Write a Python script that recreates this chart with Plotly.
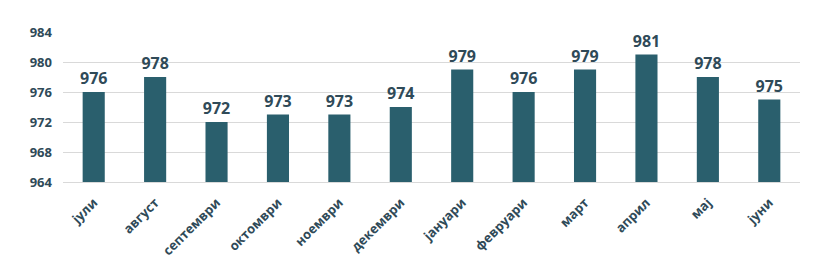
import plotly.graph_objects as go

months = ["јули", "август", "септември", "октомври", "ноември", "декември",
          "јануари", "февруари", "март", "април", "мај", "јуни"]
values = [976, 978, 972, 973, 973, 974, 979, 976, 979, 981, 978, 975]
y_ticks = [964, 968, 972, 976, 980, 984]

bar_color = "#2a5f6d"
text_color = "#2f4a58"

fig = go.Figure(go.Bar(
    x=months, y=values,
    marker=dict(color=bar_color, line=dict(width=0)),
    text=[str(v) for v in values], textposition="outside",
    textfont=dict(family="Open Sans", size=16, color=text_color, weight="bold"),
    constraintext="none",
    cliponaxis=False,
))
fig.update_layout(
    width=827, height=256,
    margin=dict(l=63, r=27, t=32, b=74, autoexpand=False),
    paper_bgcolor="white", plot_bgcolor="white",
    bargap=0.64, showlegend=False,
    font=dict(family="Open Sans", color=text_color),
)
fig.update_xaxes(tickangle=-45, automargin=False, ticklabelstandoff=7,
                 tickfont=dict(size=13, color=text_color, weight="bold"),
                 showline=True, linecolor="#d9d9d9", linewidth=1, ticks="")
fig.update_yaxes(range=[964, 984], tickvals=y_ticks, showgrid=True, gridcolor="#d9d9d9",
                 automargin=False,
                 gridwidth=1, zeroline=False, ticks="", ticklabelstandoff=10,
                 tickfont=dict(size=13, color=text_color, weight="bold"))
fig.write_html("out.html")
